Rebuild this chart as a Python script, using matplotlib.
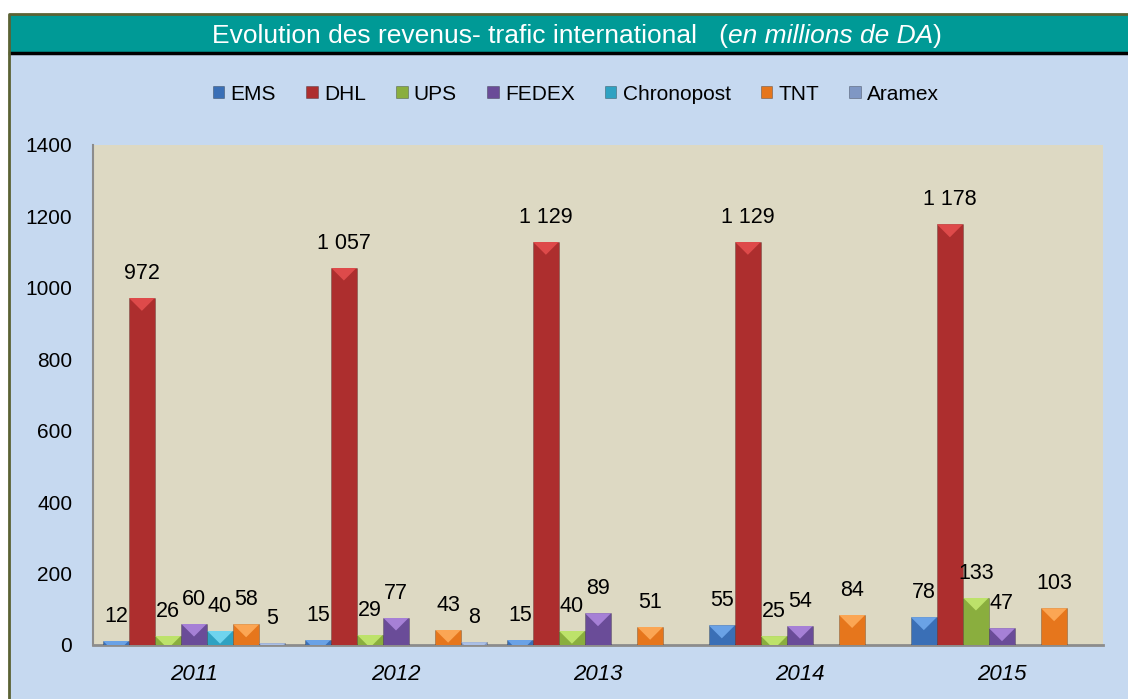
import numpy as np
import matplotlib
matplotlib.use("Agg")
from matplotlib import pyplot as plt
from matplotlib.patches import Rectangle, Polygon, Patch
from matplotlib.lines import Line2D

years = ['2011', '2012', '2013', '2014', '2015']
series_names = ['EMS', 'DHL', 'UPS', 'FEDEX', 'Chronopost', 'TNT', 'Aramex']
ems = [12, 15, 15, 55, 78]
dhl = [972, 1057, 1129, 1129, 1178]
ups = [26, 29, 40, 25, 133]
fedex = [60, 77, 89, 54, 47]
chrono = [40, np.nan, np.nan, np.nan, np.nan]
tnt = [58, 43, 51, 84, 103]
aramex = [5, 8, np.nan, np.nan, np.nan]
y_ticks = [0, 200, 400, 600, 800, 1000, 1200, 1400]

# base colour, lighter top facet
colors = ['#3a6fb6', '#ad2e2e', '#8aae3e', '#6a4c98', '#2fa2c2', '#e6761c', '#7f97c4']
tops = ['#6aa2e6', '#de4a4a', '#bde26a', '#a680d6', '#6fd4ee', '#fba654', '#aabfe6']

FONT = ['Liberation Sans Narrow', 'Liberation Sans', 'DejaVu Sans']

W, H = 1128, 699
fig = plt.figure(figsize=(W / 100, H / 100), dpi=100, facecolor='white')

# background panels
fig.patches.append(Rectangle((10 / W, 0), 1, 1 - 14 / H, transform=fig.transFigure,
                             facecolor='#c6d9f0', edgecolor='none', zorder=0))
fig.patches.append(Rectangle((10 / W, 1 - 52 / H), 1, 38 / H, transform=fig.transFigure,
                             facecolor='#009a96', edgecolor='none', zorder=1))
fig.add_artist(Line2D([10 / W, 1], [1 - 53 / H, 1 - 53 / H], transform=fig.transFigure,
                      color='black', lw=2.5))
fig.add_artist(Line2D([9 / W, 9 / W, 1], [0, 1 - 13.5 / H, 1 - 13.5 / H], transform=fig.transFigure,
                      color='#5b6234', lw=2))

ax = fig.add_axes([93 / W, 54 / H, 1010 / W, 500 / H])
ax.set_zorder(5)
ax.set_facecolor('#ddd9c3')

data = [ems, dhl, ups, fedex, chrono, tnt, aramex]
x = np.arange(len(years))
bw = 0.129
px = 1400 / 500  # data units per pixel

for i, vals in enumerate(data):
    pos = x + (i - 3) * bw
    bars = ax.bar(pos, vals, bw, color=colors[i], edgecolor='#00000040', linewidth=0.6, zorder=3)
    for b, v in zip(bars, vals):
        if np.isnan(v):
            continue
        bx, bwid, top = b.get_x(), b.get_width(), b.get_height()
        tri = Polygon([(bx, top), (bx + bwid, top), (bx + bwid / 2, top - 13 * px)],
                      closed=True, facecolor=tops[i], edgecolor='none', zorder=4)
        ax.add_patch(tri)
        tri.set_clip_path(b)
        ax.annotate(f"{int(v):,}".replace(',', ' '), (bx + bwid / 2, top),
                    xytext=(0, 10), textcoords='offset points', ha='center', va='bottom',
                    fontsize=15.5, family=FONT, zorder=5)

ax.set_xlim(-0.5, 4.5)
ax.set_ylim(0, 1400)
ax.set_yticks(y_ticks)
ax.set_yticklabels([str(t) for t in y_ticks], family=FONT, fontsize=15)
ax.set_xticks(x)
ax.set_xticklabels(years, family=FONT, fontsize=16, style='italic')
ax.tick_params(axis='y', length=0, pad=15)
ax.tick_params(axis='x', length=0, pad=14)
for s in ['top', 'right']:
    ax.spines[s].set_visible(False)
ax.spines['left'].set_color('#8c8c8c')
ax.spines['left'].set_linewidth(1.5)
ax.spines['bottom'].set_color('#8c8c8c')
ax.spines['bottom'].set_linewidth(2)

handles = [Patch(facecolor=colors[i], edgecolor='#00000060', linewidth=0.5) for i in range(7)]
fig.legend(handles, series_names, loc='center', bbox_to_anchor=(576 / W, 1 - 94 / H), ncol=7,
           frameon=False, prop={'family': FONT, 'size': 15}, handlelength=0.55,
           handleheight=0.55, handletextpad=0.3, columnspacing=1.45)

# title in the teal band: regular part, italic unit, closing bracket
t1 = fig.text(212 / W, 1 - 36 / H, "Evolution des revenus- trafic international   (",
              color='white', fontsize=19, family=FONT, va='center', ha='left', zorder=6)
t2 = ax.annotate("en millions de DA", xy=(1, 0), xycoords=t1, va='bottom', ha='left',
                 color='white', fontsize=19, family=FONT, style='italic', annotation_clip=False)
ax.annotate(")", xy=(1, 0), xycoords=t2, va='bottom', ha='left',
            color='white', fontsize=19, family=FONT, annotation_clip=False)

fig.savefig('out.png', dpi=100, facecolor=fig.get_facecolor())
